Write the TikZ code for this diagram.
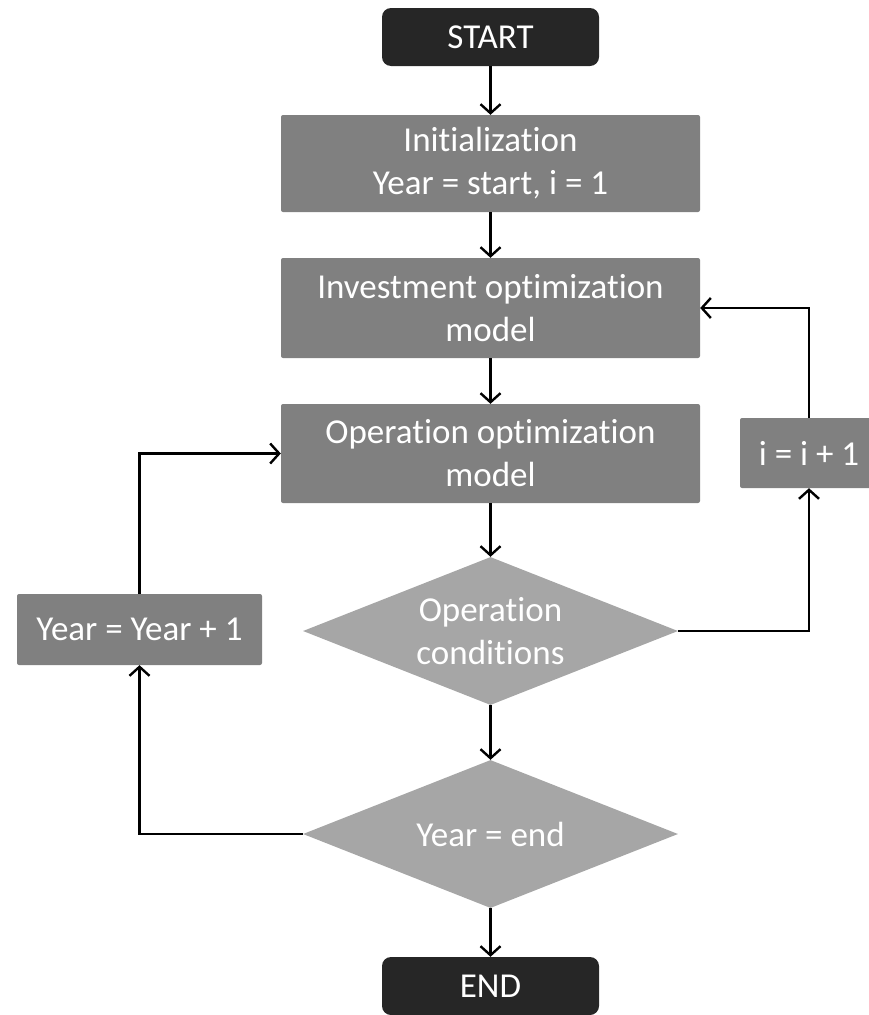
\documentclass[tikz,border=0pt]{standalone}
\usepackage{fontspec}
\setmainfont[Ligatures=NoCommon]{Carlito}
\usetikzlibrary{shapes.geometric,arrows.meta}
\definecolor{darkbox}{HTML}{262626}
\definecolor{graybox}{HTML}{808080}
\definecolor{graydia}{HTML}{A6A6A6}
\begin{document}
\begin{tikzpicture}[x=1pt,y=-1pt,
  every node/.style={font=\fontsize{35}{43}\selectfont, text=white, align=center, inner sep=0pt},
  term/.style={fill=darkbox, rounded corners=9pt, minimum width=217pt, minimum height=58pt},
  proc/.style={fill=graybox, rounded corners=2pt},
  dia/.style={diamond, fill=graydia, minimum width=375pt, minimum height=148pt},
  conn/.style={draw=black, line width=2.4pt, -{Straight Barb[length=9pt,width=20pt,line width=2.4pt]}}
]
\useasboundingbox (0,0) rectangle (869,1015);
\node[term] (start) at (490.5,37) {START};
\node[proc, minimum width=419pt, minimum height=97pt] (init) at (490.5,163.5) {Initialization\\Year = start, i = 1};
\node[proc, minimum width=419pt, minimum height=100pt] (inv) at (490.5,308) {Investment optimization\\model};
\node[proc, minimum width=419pt, minimum height=99pt] (oper) at (490.5,453.5) {Operation optimization\\model};
\node[proc, minimum width=138pt, minimum height=70pt] (inc) at (809,453) {i = i + 1};
\node[dia] (d1) at (490.5,631) {};
\node at (d1) {Operation\\conditions};
\node[proc, minimum width=245pt, minimum height=71pt] (year) at (139.5,629.5) {Year = Year + 1};
\node[dia] (d2) at (490.5,834) {};
\node at (d2) {Year = end};
\node[term] (end) at (490.5,986) {END};

\draw[conn] (start) -- (init);
\draw[conn] (init) -- (inv);
\draw[conn] (inv) -- (oper);
\draw[conn] (oper) -- (d1);
\draw[conn] (d1) -- (d2);
\draw[conn] (d2) -- (end);
\draw[conn] (d1.east) -| (inc.south);
\draw[conn] (inc.north) |- (inv.east);
\draw[conn] (d2.west) -| (year.south);
\draw[conn] (year.north) |- (oper.west);
\end{tikzpicture}
\end{document}
